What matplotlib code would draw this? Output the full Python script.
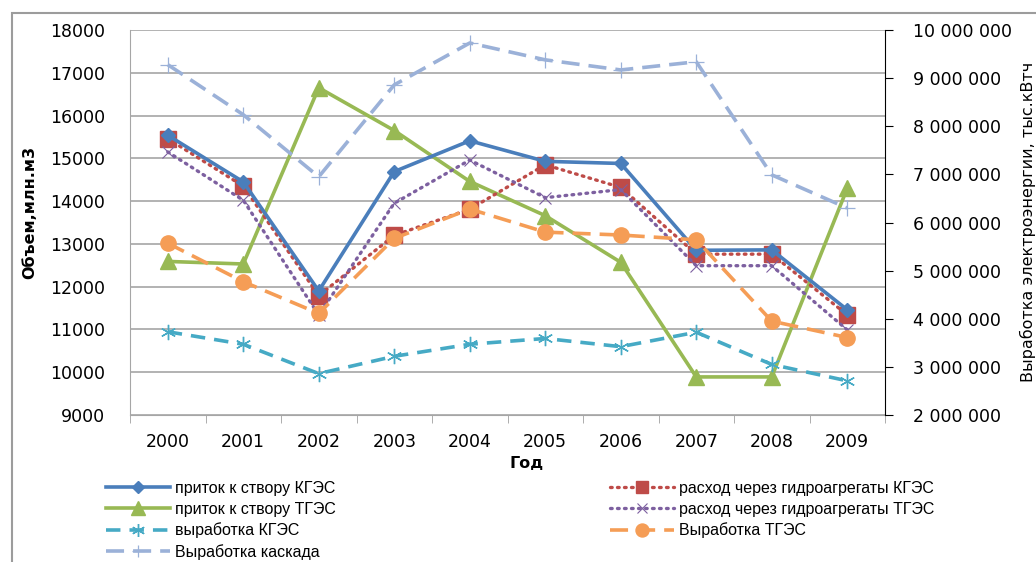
import matplotlib
matplotlib.use('Agg')
import matplotlib.pyplot as plt
from matplotlib.patches import Rectangle
from matplotlib.ticker import FuncFormatter, FixedLocator

years = ['2000', '2001', '2002', '2003', '2004', '2005', '2006', '2007', '2008', '2009']

# left axis, млн.м3
inflow_kges = [15540, 14450, 11900, 14690, 15410, 14930, 14880, 12850, 12860, 11460]
flow_kges = [15460, 14350, 11790, 13200, 13810, 14850, 14320, 12760, 12760, 11340]
inflow_tges = [12590, 12530, 16650, 15650, 14460, 13660, 12570, 9890, 9890, 14300]
flow_tges = [15150, 14020, 11340, 13950, 14960, 14080, 14270, 12490, 12490, 10990]

# right axis, тыс.кВтч
gen_kges = [3730000, 3470000, 2860000, 3220000, 3470000, 3590000, 3420000, 3720000, 3050000, 2710000]
gen_tges = [5570000, 4770000, 4110000, 5670000, 6280000, 5800000, 5740000, 5640000, 3950000, 3610000]
gen_cascade = [9280000, 8240000, 6950000, 8860000, 9730000, 9380000, 9170000, 9340000, 6990000, 6300000]

labels = ['приток к створу КГЭС', 'расход через гидроагрегаты КГЭС',
          'приток к створу ТГЭС', 'расход через гидроагрегаты ТГЭС',
          'выработка КГЭС', 'Выработка ТГЭС', 'Выработка каскада']

W, H = 1036, 562
fig = plt.figure(figsize=(W / 100, H / 100), dpi=100)
ax = fig.add_axes([130 / W, 1 - 415 / H, 755 / W, 385 / H])
ax2 = ax.twinx()

x = list(range(len(years)))
ax.plot(x, inflow_kges, color='#4A7EBB', lw=2.6, marker='D', ms=7, zorder=5, label=labels[0])
ax.plot(x, flow_kges, color='#BE4B48', lw=2.4, ls=(0, (0.5, 1.6)), dash_capstyle='round',
        marker='s', ms=11, zorder=4, label=labels[1])
ax.plot(x, inflow_tges, color='#98B954', lw=2.6, marker='^', ms=12, zorder=3, label=labels[2])
ax.plot(x, flow_tges, color='#7D60A0', lw=2.4, ls=(0, (0.5, 1.6)), dash_capstyle='round',
        marker='x', ms=9, mew=0.8, zorder=4, label=labels[3])
ax2.plot(x, gen_kges, color='#46AAC5', lw=2.6, ls=(0, (4, 2.5)), marker=(6, 2, 0), ms=11,
         mew=1.0, label=labels[4])
ax2.plot(x, gen_tges, color='#F59D56', lw=2.6, ls=(0, (5, 2.5)), marker='o', ms=11, label=labels[5])
ax2.plot(x, gen_cascade, color='#9BB1D8', lw=2.6, ls=(0, (5, 2.5)), marker='+', ms=11,
         mew=0.9, label=labels[6])

ax.set_xlim(-0.5, len(years) - 0.5)
ax.set_ylim(9000, 18000)
ax.set_yticks(range(9000, 18001, 1000))
ax2.set_ylim(2000000, 10000000)
ax2.set_yticks(range(2000000, 10000001, 1000000))
ax2.yaxis.set_major_formatter(FuncFormatter(lambda v, p: f'{int(v):,}'.replace(',', ' ')))

ax.set_xticks(x)
ax.set_xticklabels(years)
ax.xaxis.set_minor_locator(FixedLocator([i + 0.5 for i in range(-1, len(years))]))
ax.tick_params(axis='x', which='major', length=0, pad=13, labelsize=12.5)
ax.tick_params(axis='x', which='minor', length=6, color='#A0A0A0')
ax.tick_params(axis='y', length=0, pad=18, labelsize=12.5)
ax2.tick_params(axis='y', length=6, color='black', pad=14, labelsize=12.5)

ax.grid(axis='y', color='#A6A6A6', lw=1.2)
ax.set_axisbelow(True)
for sp in ['top', 'right']:
    ax.spines[sp].set_visible(False)
for sp in ['top', 'left', 'bottom']:
    ax2.spines[sp].set_visible(False)
ax.spines['left'].set_color('#A6A6A6')
ax.spines['bottom'].set_color('#A6A6A6')
ax2.spines['right'].set_color('black')

fig.text(30 / W, 1 - 212 / H, 'Объем,млн.м3', rotation=90, ha='center', va='center',
         fontsize=11.5, fontweight='bold')
fig.text(1028 / W, 1 - 222 / H, 'Выработка электроэнергии, тыс.кВтч', rotation=90,
         ha='center', va='center', fontsize=11.5)
fig.text(527 / W, 1 - 463 / H, 'Год', ha='center', va='center', fontsize=11.5, fontweight='bold')

# legend in Excel order (row-major in 2 columns)
h1, l1 = ax.get_legend_handles_labels()
h2, l2 = ax2.get_legend_handles_labels()
hd = dict(zip(l1 + l2, h1 + h2))
order = [labels[0], labels[2], labels[4], labels[6], labels[1], labels[3], labels[5]]
fig.legend([hd[k] for k in order], order, ncol=2, frameon=False, loc='upper left',
           bbox_to_anchor=(106 / W, 1 - 481 / H), prop={'family': 'Liberation Sans', 'size': 11.5},
           handlelength=4.0, handletextpad=0.3, columnspacing=17.2, labelspacing=0.36,
           borderaxespad=0, borderpad=0, markerscale=0.85)

fig.add_artist(Rectangle((12 / W, -0.1), 1.2, 1 - 13 / H + 0.1, transform=fig.transFigure,
                         fill=False, edgecolor='#9C9C9C', lw=1.5))

fig.savefig('out.png', dpi=100)
